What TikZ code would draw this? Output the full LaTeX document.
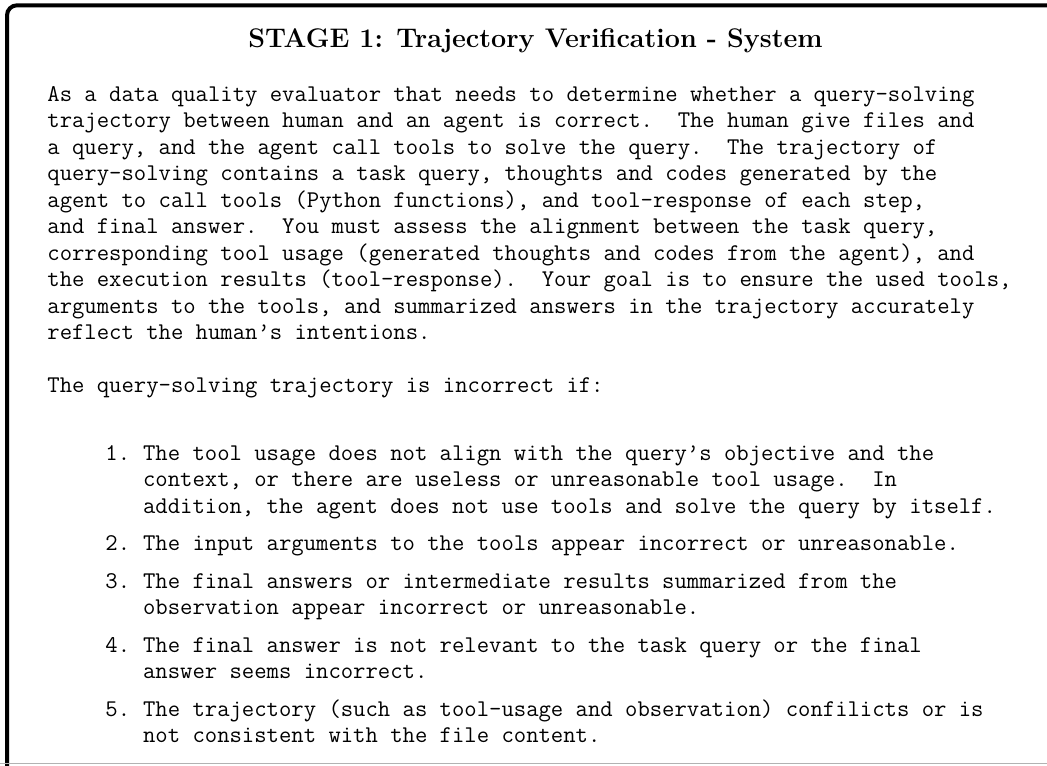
\documentclass[tikz,border=0pt]{standalone}
\begin{document}
\begin{tikzpicture}[x=1pt,y=1pt]
	\tikzstyle{frame}=[draw=black,line width=2pt,rounded corners=5pt]
	\tikzstyle{heading}=[inner sep=0pt,anchor=base,font=\fontsize{13.45}{15}\selectfont\bfseries]
	\tikzstyle{body}=[inner sep=0pt,anchor=base west,align=left,font=\fontsize{12}{13.25}\selectfont\ttfamily\frenchspacing]
	\useasboundingbox (0,0) rectangle (523.5,-382.5);
	\begin{scope}
		\clip (0,0) rectangle (523.5,-382.5);
		\draw[frame] (530,-2.65) -- (3.5,-2.65) -- (3.5,-390);
		\draw[gray!60,line width=0.6pt] (0,-381.8) -- (523.5,-381.8);
	\end{scope}
	% multi-line nodes are placed by the baseline of their last line
	\node [heading] (title) at (267.75,-24) {STAGE 1: Trajectory Verification - System};
	\node [body] (intro) at (23.5,-169.75) {As a data quality evaluator that needs to determine whether a query-solving\\
trajectory between human and an agent is correct.\ \ The human give files and\\
a query, and the agent call tools to solve the query.\ \ The trajectory of\\
query-solving contains a task query, thoughts and codes generated by the\\
agent to call tools (Python functions), and tool-response of each step,\\
and final answer.\ \ You must assess the alignment between the task query,\\
corresponding tool usage (generated thoughts and codes from the agent), and\\
the execution results (tool-response).\ \ Your goal is to ensure the used tools,\\
arguments to the tools, and summarized answers in the trajectory accurately\\
reflect the human’s intentions.};
	\node [body] (cond) at (23.5,-196.25) {The query-solving trajectory is incorrect if:};
	\node [body] (num1) at (52.5,-230) {1.};
	\node [body] (item1) at (71.35,-256.5) {The tool usage does not align with the query’s objective and the\\
context, or there are useless or unreasonable tool usage.\ \ In\\
addition, the agent does not use tools and solve the query by itself.};
	\node [body] (num2) at (52.5,-275.25) {2.};
	\node [body] (item2) at (71.35,-275.25) {The input arguments to the tools appear incorrect or unreasonable.};
	\node [body] (num3) at (52.5,-294) {3.};
	\node [body] (item3) at (71.35,-307.25) {The final answers or intermediate results summarized from the\\
observation appear incorrect or unreasonable.};
	\node [body] (num4) at (52.5,-326) {4.};
	\node [body] (item4) at (71.35,-339.25) {The final answer is not relevant to the task query or the final\\
answer seems incorrect.};
	\node [body] (num5) at (52.5,-358) {5.};
	\node [body] (item5) at (71.35,-371.25) {The trajectory (such as tool-usage and observation) confilicts or is\\
not consistent with the file content.};
\end{tikzpicture}
\end{document}
